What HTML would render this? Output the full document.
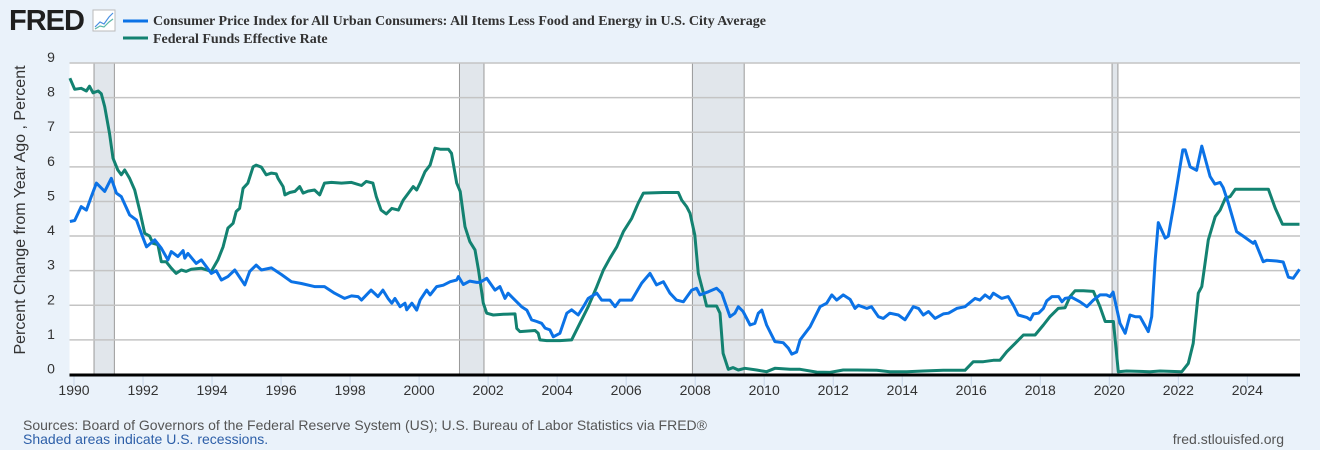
<!DOCTYPE html>
<html><head><meta charset="utf-8"><style>
html,body{margin:0;padding:0;background:#eaf2fa;}
svg{display:block;font-family:"Liberation Sans",sans-serif;}
</style></head><body>
<svg id="chart" width="1320" height="450" viewBox="0 0 1320 450">
<rect x="0" y="0" width="1320" height="450" fill="#eaf2fa"/>
<g>
<text x="9" y="30" font-size="29" font-weight="bold" fill="#1f1f1f" letter-spacing="-1">FRED</text>
<rect x="93" y="10" width="22" height="21" fill="#fff" stroke="#bbb"/>
<polyline points="95,27 100,22 104,24 109,17 113,13" fill="none" stroke="#4a90e2" stroke-width="1.2"/>
<polyline points="95,29 100,26 104,27 109,22 113,19" fill="none" stroke="#5bb8a8" stroke-width="1.2"/>
<line x1="123" y1="21" x2="148" y2="21" stroke="#0b72e6" stroke-width="3"/>
<text x="153" y="25" font-family="'Liberation Serif',serif" font-weight="bold" font-size="14" textLength="613" fill="#333">Consumer Price Index for All Urban Consumers: All Items Less Food and Energy in U.S. City Average</text>
<line x1="123" y1="38" x2="148" y2="38" stroke="#138271" stroke-width="3"/>
<text x="153" y="43" font-family="'Liberation Serif',serif" font-weight="bold" font-size="14" fill="#333">Federal Funds Effective Rate</text>
</g>
<rect x="69.5" y="63" width="1230.5" height="311.5" fill="#fff"/>
<g id="rec"></g><g id="grid"></g><g id="ticks"></g><g id="series"></g>
<line x1="69.5" y1="375" x2="1300" y2="375" stroke="#000" stroke-width="3"/>
<text transform="translate(25,210) rotate(-90)" text-anchor="middle" font-size="16" fill="#333">Percent Change from Year Ago , Percent</text>
<text x="23" y="430" font-size="14" textLength="684" fill="#555">Sources: Board of Governors of the Federal Reserve System (US); U.S. Bureau of Labor Statistics via FRED®</text>
<text x="23" y="444" font-size="14" fill="#2d5fa8">Shaded areas indicate U.S. recessions.</text>
<text x="1284" y="444" text-anchor="end" font-size="14" fill="#555">fred.stlouisfed.org</text>
</svg>
<script>
const yTicks=[0,1,2,3,4,5,6,7,8,9];
const xTicks=[1990,1992,1994,1996,1998,2000,2002,2004,2006,2008,2010,2012,2014,2016,2018,2020,2022,2024];
const recStart=[1990.58,2001.17,2007.92,2020.08];
const recEnd=[1991.17,2001.88,2009.42,2020.25];
const cpiDates=[1989.88,1990.02,1990.21,1990.36,1990.50,1990.65,1990.89,1991.08,1991.23,1991.37,1991.61,1991.81,1991.95,1992.10,1992.34,1992.53,1992.72,1992.82,1993.01,1993.16,1993.21,1993.30,1993.54,1993.69,1993.98,1994.12,1994.27,1994.46,1994.66,1994.95,1995.09,1995.28,1995.43,1995.72,1996.01,1996.30,1996.59,1996.97,1997.26,1997.55,1997.84,1998.04,1998.23,1998.33,1998.61,1998.81,1998.95,1999.10,1999.21,1999.30,1999.45,1999.59,1999.64,1999.79,1999.93,2000.03,2000.22,2000.32,2000.51,2000.70,2000.90,2001.09,2001.14,2001.28,2001.47,2001.67,2001.76,2001.96,2002.20,2002.34,2002.49,2002.58,2002.73,2002.97,2003.12,2003.26,2003.41,2003.55,2003.65,2003.79,2003.89,2004.08,2004.28,2004.42,2004.61,2004.76,2004.90,2005.15,2005.29,2005.53,2005.68,2005.82,2006.16,2006.45,2006.69,2006.88,2007.08,2007.27,2007.46,2007.66,2007.90,2008.04,2008.14,2008.38,2008.62,2008.77,2009.01,2009.15,2009.25,2009.39,2009.59,2009.73,2009.83,2009.93,2010.07,2010.31,2010.55,2010.70,2010.80,2010.94,2011.04,2011.33,2011.62,2011.81,2011.96,2012.10,2012.29,2012.49,2012.63,2012.73,2012.97,2013.11,2013.31,2013.45,2013.64,2013.89,2014.08,2014.32,2014.47,2014.61,2014.76,2014.95,2015.19,2015.34,2015.58,2015.82,2016.11,2016.25,2016.40,2016.54,2016.64,2016.88,2017.07,2017.22,2017.36,2017.61,2017.71,2017.80,2017.95,2018.09,2018.19,2018.34,2018.53,2018.63,2018.72,2018.91,2019.15,2019.35,2019.54,2019.73,2019.92,2020.02,2020.11,2020.31,2020.46,2020.60,2020.75,2020.89,2021.13,2021.23,2021.33,2021.42,2021.62,2021.71,2021.86,2022.13,2022.20,2022.34,2022.53,2022.68,2022.92,2023.06,2023.21,2023.30,2023.45,2023.69,2023.88,2024.17,2024.22,2024.46,2024.56,2024.85,2025.04,2025.19,2025.33,2025.51];
const cpiValues=[4.42,4.45,4.85,4.75,5.14,5.53,5.29,5.67,5.24,5.14,4.61,4.46,4.08,3.69,3.89,3.65,3.31,3.55,3.41,3.58,3.36,3.5,3.21,3.31,2.92,3.0,2.73,2.83,3.02,2.59,2.98,3.16,3.02,3.08,2.89,2.68,2.63,2.54,2.54,2.35,2.2,2.27,2.25,2.15,2.44,2.25,2.44,2.2,2.06,2.2,1.96,2.06,1.87,2.06,1.86,2.15,2.44,2.3,2.54,2.58,2.68,2.73,2.83,2.6,2.7,2.66,2.66,2.78,2.44,2.54,2.2,2.35,2.2,1.96,1.86,1.58,1.53,1.48,1.34,1.29,1.09,1.19,1.77,1.87,1.72,1.96,2.2,2.35,2.15,2.15,1.96,2.15,2.15,2.64,2.92,2.59,2.68,2.35,2.15,2.1,2.44,2.49,2.3,2.39,2.49,2.35,1.67,1.77,1.96,1.82,1.43,1.48,1.77,1.86,1.43,0.95,0.92,0.76,0.59,0.65,1.0,1.38,1.96,2.06,2.3,2.15,2.3,2.17,1.91,2.0,1.91,1.96,1.67,1.62,1.77,1.72,1.58,1.96,1.91,1.72,1.82,1.62,1.75,1.77,1.91,1.96,2.2,2.15,2.3,2.2,2.35,2.2,2.25,2.0,1.72,1.65,1.58,1.75,1.77,1.91,2.13,2.25,2.25,2.1,2.2,2.23,2.1,1.96,2.15,2.3,2.3,2.25,2.38,1.48,1.19,1.72,1.67,1.67,1.24,1.67,3.31,4.39,3.94,4.0,4.85,6.49,6.49,6.0,5.9,6.6,5.72,5.5,5.55,5.4,4.95,4.13,4.0,3.79,3.85,3.26,3.3,3.28,3.25,2.81,2.78,3.04];
const ffDates=[1989.88,1990.02,1990.21,1990.36,1990.45,1990.55,1990.70,1990.79,1990.89,1991.03,1991.13,1991.27,1991.37,1991.47,1991.61,1991.76,1991.90,1992.05,1992.19,1992.29,1992.43,1992.53,1992.67,1992.82,1992.96,1993.11,1993.25,1993.40,1993.69,1993.98,1994.17,1994.32,1994.46,1994.61,1994.70,1994.80,1994.90,1995.04,1995.19,1995.28,1995.43,1995.57,1995.72,1995.86,1995.91,1996.06,1996.11,1996.25,1996.40,1996.54,1996.64,1996.78,1996.97,1997.12,1997.26,1997.46,1997.75,1998.04,1998.33,1998.47,1998.66,1998.76,1998.90,1999.05,1999.21,1999.40,1999.54,1999.69,1999.83,1999.93,2000.03,2000.17,2000.32,2000.46,2000.61,2000.85,2000.94,2001.09,2001.19,2001.33,2001.47,2001.62,2001.72,2001.86,2001.96,2002.15,2002.44,2002.78,2002.83,2002.92,2003.36,2003.45,2003.50,2003.70,2004.08,2004.42,2004.66,2004.90,2005.15,2005.34,2005.53,2005.73,2005.92,2006.16,2006.35,2006.50,2007.08,2007.51,2007.61,2007.75,2007.85,2007.99,2008.09,2008.24,2008.33,2008.62,2008.72,2008.81,2008.96,2009.10,2009.25,2009.44,2009.78,2010.07,2010.31,2010.75,2011.04,2011.52,2011.91,2012.29,2012.68,2013.26,2013.64,2014.13,2014.61,2015.19,2015.82,2016.06,2016.35,2016.64,2016.83,2017.03,2017.27,2017.51,2017.85,2018.09,2018.28,2018.52,2018.72,2018.86,2019.01,2019.25,2019.54,2019.73,2019.88,2020.12,2020.26,2020.50,2021.18,2021.47,2022.10,2022.29,2022.43,2022.58,2022.68,2022.87,2023.07,2023.21,2023.36,2023.50,2023.65,2024.61,2024.81,2025.02,2025.51];
const ffValues=[8.56,8.24,8.27,8.19,8.33,8.14,8.19,8.11,7.74,6.97,6.25,5.91,5.77,5.91,5.67,5.33,4.75,4.08,4.0,3.79,3.75,3.26,3.26,3.07,2.92,3.02,2.98,3.04,3.07,2.98,3.31,3.69,4.23,4.37,4.71,4.8,5.38,5.53,6.0,6.05,5.99,5.77,5.82,5.8,5.67,5.43,5.19,5.26,5.29,5.43,5.24,5.3,5.33,5.19,5.53,5.55,5.53,5.55,5.46,5.58,5.53,5.14,4.75,4.64,4.8,4.75,5.04,5.24,5.43,5.33,5.53,5.86,6.05,6.54,6.51,6.51,6.39,5.53,5.29,4.27,3.84,3.6,3.02,2.06,1.77,1.72,1.74,1.75,1.33,1.24,1.27,1.19,1.0,0.98,0.98,1.0,1.48,1.96,2.54,3.02,3.36,3.69,4.13,4.51,4.95,5.24,5.26,5.26,5.04,4.85,4.66,4.03,2.92,2.35,1.98,1.98,1.77,0.61,0.15,0.2,0.13,0.18,0.13,0.08,0.18,0.15,0.15,0.07,0.06,0.13,0.13,0.12,0.08,0.08,0.1,0.12,0.12,0.37,0.37,0.41,0.41,0.66,0.9,1.14,1.14,1.43,1.67,1.91,1.93,2.25,2.42,2.42,2.4,1.96,1.53,1.53,0.08,0.1,0.08,0.1,0.08,0.32,0.9,2.35,2.54,3.89,4.56,4.75,5.09,5.14,5.35,5.35,4.8,4.34,4.34];

const NS='http://www.w3.org/2000/svg';
const X0=74, XS=34.51, Y0=374.5, YS=34.61, LEFT=69.5, RIGHT=1300;
function xPos(yr){return X0+(yr-1990)*XS;}
function yPos(v){return Y0-v*YS;}
function mk(tag,attrs,parent){const e=document.createElementNS(NS,tag);for(const k in attrs)e.setAttribute(k,attrs[k]);parent.appendChild(e);return e;}
const gRec=document.getElementById('rec'),gGrid=document.getElementById('grid'),gTicks=document.getElementById('ticks'),gSer=document.getElementById('series');
recStart.forEach((s,i)=>{
  const r=mk('rect',{x:xPos(s),y:63,width:xPos(recEnd[i])-xPos(s),height:311.5,fill:'#e1e6eb'},gRec);
  
  
  [s,recEnd[i]].forEach(t=>{const l=mk('line',{x1:xPos(t),x2:xPos(t),y1:63,y2:374.5,stroke:'#999','stroke-width':1},gRec);
    
    });
});
yTicks.forEach(v=>{
  const l=mk('line',{x1:LEFT,x2:RIGHT,y1:yPos(v),y2:yPos(v),stroke:'#c4c4c4','stroke-width':1.5},gGrid);
  
  
  const t=mk('text',{x:51,y:yPos(v)-1,'text-anchor':'middle','font-size':14,fill:'#333'},gGrid);
  t.textContent=v;
  
  
});
xTicks.forEach(yr=>{
  const l=mk('line',{x1:xPos(yr),x2:xPos(yr),y1:376,y2:386,stroke:'#c8d7ea','stroke-width':1},gTicks);
  
  
  const t=mk('text',{x:xPos(yr),y:395,'text-anchor':'middle','font-size':14,fill:'#333'},gTicks);
  t.textContent=yr;
  
  
});
function line(dates,vals,color,name){
  const pts=dates.map((d,i)=>xPos(d).toFixed(1)+','+yPos(vals[i]).toFixed(1)).join(' ');
  const p=mk('polyline',{points:pts,fill:'none',stroke:color,'stroke-width':3,'stroke-linejoin':'round'},gSer);
  
  
}
line(ffDates,ffValues,'#138271','fedfunds-line');
line(cpiDates,cpiValues,'#0b72e6','cpi-line');
</script>
</body></html>
